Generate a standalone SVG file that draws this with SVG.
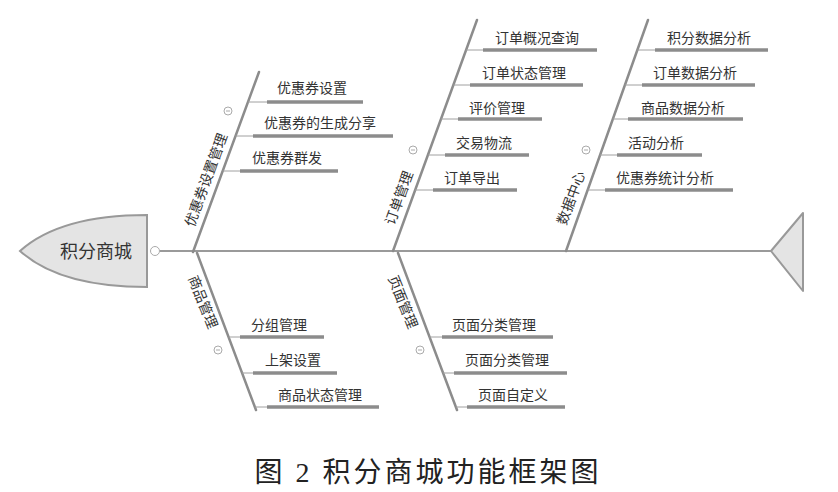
<svg xmlns="http://www.w3.org/2000/svg" width="838" height="492" viewBox="0 0 838 492">
<style>
.bone{stroke:#8c8c8c;stroke-width:2.5;fill:none;stroke-linecap:round}
.spine{stroke:#9a9a9a;stroke-width:2;fill:none}
.thin{stroke:#a0a0a0;stroke-width:1;fill:none}
.under{stroke:#8c8c8c;stroke-width:3.5;fill:none}
.lbl{font-family:"Noto Sans CJK SC","Noto Sans",sans-serif;font-size:14px;fill:#333;text-anchor:middle}
.blbl{font-family:"Noto Sans CJK SC","Noto Sans",sans-serif;font-size:14px;fill:#333;text-anchor:middle}
.tog{fill:#fff;stroke:#aaa;stroke-width:1}
.togm{stroke:#aaa;stroke-width:1}
.cap{font-family:"Liberation Serif","Noto Sans CJK SC",serif;font-size:28px;fill:#222;text-anchor:middle;letter-spacing:3px}
</style>
<rect width="838" height="492" fill="#fff"/>
<g id="connectors">
<line class="spine" x1="160" y1="251" x2="772" y2="251"/>
<line class="bone" x1="193" y1="252" x2="259" y2="72"/>
<line class="bone" x1="393" y1="251" x2="477" y2="20"/>
<line class="bone" x1="566" y1="251" x2="648" y2="20"/>
<line class="bone" x1="197" y1="253" x2="256" y2="410"/>
<line class="bone" x1="398" y1="253" x2="457" y2="410"/>
<path class="thin" d="M248,102H267M235.5,136H253M222.7,171H240M466,50H483M453.4,85H470M441,119H458M428,155H445M415,190H433M637.4,50H655M625,85H642M613,119H628M600,155H617M587.7,190H605M228.6,337H240M242,373H253M255,407H267M429.6,337H442M443,373H454M456,407H467"/>
</g>
<g id="head">
<path d="M20,251 Q60,215 147,215 L147,287 Q60,287 20,251 Z" fill="#e4e4e4" stroke="#999" stroke-width="2"/>
<text x="96" y="258" font-family="Noto Sans CJK SC,sans-serif" font-size="18" fill="#333" text-anchor="middle">积分商城</text>
<circle class="tog" cx="155" cy="251" r="4.5"/>
</g>
<g id="tail">
<path d="M771,251 L803,213 L803,291 Z" fill="#e4e4e4" stroke="#999" stroke-width="2" stroke-linejoin="round"/>
</g>
<g id="branch-coupon">
<text class="blbl" transform="translate(206,180) rotate(-70)" y="5">优惠券设置管理</text>
<circle class="tog" cx="228" cy="111" r="4"/><line class="togm" x1="226" y1="111" x2="230" y2="111"/>
</g>
<g id="coupon-1"><line class="under" x1="267" y1="102" x2="363" y2="102"/><text class="lbl" x="312" y="93">优惠券设置</text></g>
<g id="coupon-2"><line class="under" x1="253" y1="136" x2="393" y2="136"/><text class="lbl" x="320" y="128">优惠券的生成分享</text></g>
<g id="coupon-3"><line class="under" x1="240" y1="171" x2="338" y2="171"/><text class="lbl" x="287" y="163">优惠券群发</text></g>
<g id="branch-order">
<text class="blbl" transform="translate(399,198) rotate(-70)" y="5">订单管理</text>
<circle class="tog" cx="413" cy="150" r="4"/><line class="togm" x1="411" y1="150" x2="415" y2="150"/>
</g>
<g id="order-1"><line class="under" x1="483" y1="50" x2="597" y2="50"/><text class="lbl" x="537" y="43">订单概况查询</text></g>
<g id="order-2"><line class="under" x1="470" y1="85" x2="583" y2="85"/><text class="lbl" x="524" y="78">订单状态管理</text></g>
<g id="order-3"><line class="under" x1="458" y1="119" x2="542" y2="119"/><text class="lbl" x="497" y="113">评价管理</text></g>
<g id="order-4"><line class="under" x1="445" y1="155" x2="529" y2="155"/><text class="lbl" x="484" y="148">交易物流</text></g>
<g id="order-5"><line class="under" x1="433" y1="190" x2="517" y2="190"/><text class="lbl" x="472" y="183">订单导出</text></g>
<g id="branch-data">
<text class="blbl" transform="translate(571,198) rotate(-70)" y="5">数据中心</text>
<circle class="tog" cx="586" cy="150" r="4"/><line class="togm" x1="584" y1="150" x2="588" y2="150"/>
</g>
<g id="data-1"><line class="under" x1="655" y1="50" x2="768" y2="50"/><text class="lbl" x="709" y="43">积分数据分析</text></g>
<g id="data-2"><line class="under" x1="642" y1="85" x2="755" y2="85"/><text class="lbl" x="695" y="78">订单数据分析</text></g>
<g id="data-3"><line class="under" x1="628" y1="119" x2="743" y2="119"/><text class="lbl" x="683" y="113">商品数据分析</text></g>
<g id="data-4"><line class="under" x1="617" y1="155" x2="702" y2="155"/><text class="lbl" x="656" y="148">活动分析</text></g>
<g id="data-5"><line class="under" x1="605" y1="190" x2="733" y2="190"/><text class="lbl" x="665" y="183">优惠券统计分析</text></g>
<g id="branch-goods">
<text class="blbl" transform="translate(203,302) rotate(68)" y="5">商品管理</text>
<circle class="tog" cx="218" cy="350" r="4"/><line class="togm" x1="216" y1="350" x2="220" y2="350"/>
</g>
<g id="goods-1"><line class="under" x1="240" y1="337" x2="324" y2="337"/><text class="lbl" x="279" y="330">分组管理</text></g>
<g id="goods-2"><line class="under" x1="253" y1="373" x2="337" y2="373"/><text class="lbl" x="293" y="365">上架设置</text></g>
<g id="goods-3"><line class="under" x1="267" y1="407" x2="379" y2="407"/><text class="lbl" x="320" y="400">商品状态管理</text></g>
<g id="branch-page">
<text class="blbl" transform="translate(403,302) rotate(68)" y="5">页面管理</text>
<circle class="tog" cx="420" cy="350" r="4"/><line class="togm" x1="418" y1="350" x2="422" y2="350"/>
</g>
<g id="page-1"><line class="under" x1="442" y1="337" x2="553" y2="337"/><text class="lbl" x="494" y="330">页面分类管理</text></g>
<g id="page-2"><line class="under" x1="454" y1="373" x2="567" y2="373"/><text class="lbl" x="507" y="365">页面分类管理</text></g>
<g id="page-3"><line class="under" x1="467" y1="407" x2="565" y2="407"/><text class="lbl" x="513" y="400">页面自定义</text></g>
<g id="caption"><text class="cap" x="428" y="482">图 2 积分商城功能框架图</text></g>
</svg>
